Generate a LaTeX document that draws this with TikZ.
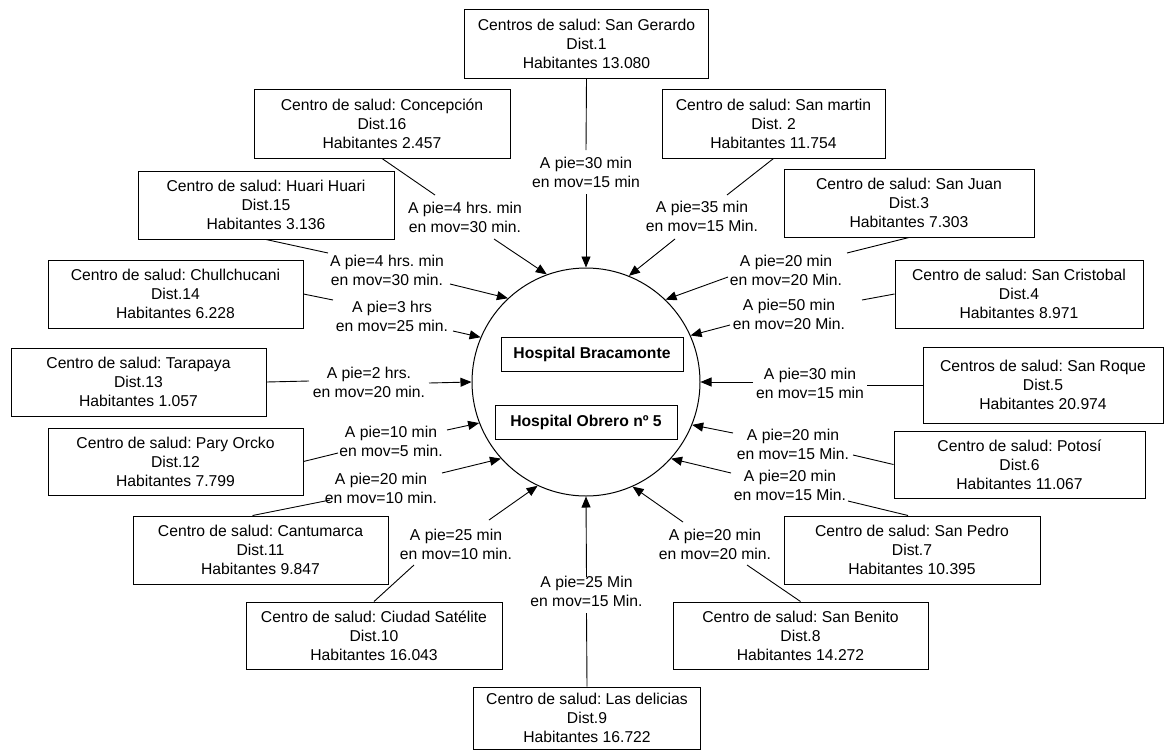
\documentclass[tikz,border=0pt]{standalone}
\usepackage{fontspec}
\setmainfont{Liberation Sans}
\usetikzlibrary{arrows.meta,calc}
\begin{document}
\frenchspacing
\begin{tikzpicture}[x=1pt,y=-1pt,
  txt/.style={font=\fontsize{15.7}{19}\selectfont\frenchspacing, align=center},
  centro/.style={txt, draw, line width=1pt, inner sep=0pt},
  tiempo/.style={txt, inner xsep=3pt, inner ysep=6pt},
  hosp/.style={draw, line width=1pt, font=\fontsize{15.7}{19}\selectfont\bfseries, inner sep=0pt, minimum width=182pt, minimum height=34pt},
  link/.style={line width=0.9pt},
  flecha/.style={line width=0.9pt, -{Triangle[length=11pt,width=9pt]}},
]
\useasboundingbox (0,0) rectangle (1173,753);

% central circle and hospitals
\node[circle, draw, line width=1pt, minimum size=228pt, inner sep=0pt] (c) at (586,382) {};
\node[hosp] (hb) at (592,354) {Hospital Bracamonte};
\node[hosp] (ho) at (586,422) {Hospital Obrero nº 5};

% health centres
\node[centro, minimum width=244pt, minimum height=69pt] (g1) at (586.5,43.5) {Centros de salud: San Gerardo\\Dist.1\\Habitantes 13.080};
\node[centro, minimum width=223pt, minimum height=69pt] (g2) at (773.5,123.5) {Centro de salud: San martin\\Dist. 2\\Habitantes 11.754};
\node[centro, minimum width=250pt, minimum height=68pt] (g3) at (909,203) {Centro de salud: San Juan\\Dist.3\\Habitantes 7.303};
\node[centro, minimum width=248pt, minimum height=68pt] (g4) at (1019,294) {Centro de salud: San Cristobal\\Dist.4\\Habitantes 8.971};
\node[centro, minimum width=240pt, minimum height=76pt] (g5) at (1043,385) {Centros de salud: San Roque\\Dist.5\\Habitantes 20.974};
\node[centro, minimum width=251pt, minimum height=67pt] (g6) at (1019.5,464.5) {Centro de salud: Potosí\\Dist.6\\Habitantes 11.067};
\node[centro, minimum width=256pt, minimum height=68pt] (g7) at (912,550) {Centro de salud: San Pedro\\Dist.7\\Habitantes 10.395};
\node[centro, minimum width=255pt, minimum height=67pt] (g8) at (800.5,635.5) {Centro de salud: San Benito\\Dist.8\\Habitantes 14.272};
\node[centro, minimum width=227pt, minimum height=62pt] (g9) at (587,718) {Centro de salud: Las delicias\\Dist.9\\Habitantes 16.722};
\node[centro, minimum width=256pt, minimum height=67pt] (g10) at (374,635.5) {Centro de salud: Ciudad Satélite\\Dist.10\\Habitantes 16.043};
\node[centro, minimum width=255pt, minimum height=68pt] (g11) at (260.5,550) {Centro de salud: Cantumarca\\Dist.11\\Habitantes 9.847};
\node[centro, minimum width=255pt, minimum height=67pt] (g12) at (175.5,461.5) {Centro de salud: Pary Orcko\\Dist.12\\Habitantes 7.799};
\node[centro, minimum width=255pt, minimum height=68pt] (g13) at (138.5,382) {Centro de salud: Tarapaya\\Dist.13\\Habitantes 1.057};
\node[centro, minimum width=255pt, minimum height=68pt] (g14) at (175.5,294) {Centro de salud: Chullchucani\\Dist.14\\Habitantes 6.228};
\node[centro, minimum width=256pt, minimum height=68pt] (g15) at (266,205) {Centro de salud: Huari Huari\\Dist.15\\Habitantes 3.136};
\node[centro, minimum width=256pt, minimum height=69pt] (g16) at (382,123.5) {Centro de salud: Concepción\\Dist.16\\Habitantes 2.457};

% travel-time labels
\node[tiempo] (l1) at (586,172) {A pie=30 min\\en mov=15 min};
\node[tiempo] (l2) at (702,216) {A pie=35 min\\en mov=15 Min.};
\node[tiempo] (l3) at (786,270) {A pie=20 min\\en mov=20 Min.};
\node[tiempo] (l4) at (789,314) {A pie=50 min\\en mov=20 Min.};
\node[tiempo] (l5) at (810,383) {A pie=30 min\\en mov=15 min};
\node[tiempo] (l6) at (793,444) {A pie=20 min\\en mov=15 Min.};
\node[tiempo] (l7) at (790,485) {A pie=20 min\\en mov=15 Min.};
\node[tiempo] (l8) at (715,544) {A pie=20 min\\en mov=20 min.};
\node[tiempo] (l9) at (586.5,591.5) {A pie=25 Min\\en mov=15 Min.};
\node[tiempo] (l10) at (456,544) {A pie=25 min\\en mov=10 min.};
\node[tiempo] (l11) at (381,488) {A pie=20 min\\en mov=10 min.};
\node[tiempo] (l12) at (391,441) {A pie=10 min\\en mov=5 min.};
\node[tiempo] (l13) at (369,382) {A pie=2 hrs.\\en mov=20 min.};
\node[tiempo] (l14) at (392,316) {A pie=3 hrs\\en mov=25 min.};
\node[tiempo] (l15) at (387,270) {A pie=4 hrs. min\\en mov=30 min.};
\node[tiempo] (l16) at (465,217) {A pie=4 hrs. min\\en mov=30 min.};

% connectors
\draw[link] (g1.south) -- ($(l1)+(0,-22)$);
\draw[flecha] ($(l1)+(0,22)$) -- (c.90);
\draw[link] (g2.south) -- ($(l2)+(25,-21)$);
\draw[flecha] ($(l2)+(-27,23)$) -- (c.68);
\draw[link] (g3.south) -- ($(l3)+(61,-17)$);
\draw[flecha] ($(l3)+(-58,7)$) -- (c.46);
\draw[link] (g4.west) -- ($(l4)+(73,-14)$);
\draw[flecha] ($(l4)+(-59,11)$) -- (c.24);
\draw[link] (g5.west) -- ($(l5)+(57,2)$);
\draw[flecha] ($(l5)+(-57,-1)$) -- (c.0);
\draw[link] (g6.west) -- ($(l6)+(60,11)$);
\draw[flecha] ($(l6)+(-60,-11)$) -- (c.-22);
\draw[link] ($(g7.north)+(-4,0)$) -- ($(l7)+(58,16)$);
\draw[flecha] ($(l7)+(-59,-12)$) -- (c.-42);
\draw[link] (g8.north) -- ($(l8)+(32,21)$);
\draw[flecha] ($(l8)+(-32,-22)$) -- (c.-66);
\draw[link] (g9.north) -- ($(l9)+(0,21.5)$);
\draw[flecha] ($(l9)+(0,-14.5)$) -- (c.-90);
\draw[link] (g10.north) -- ($(l10)+(-42,21)$);
\draw[flecha] ($(l10)+(33,-24)$) -- (c.245);
\draw[link] ($(g11.north)+(-8,0)$) -- ($(l11)+(-51,12)$);
\draw[flecha] ($(l11)+(61,-15)$) -- (c.222);
\draw[link] (g12.east) -- ($(l12)+(-53,12)$);
\draw[flecha] ($(l12)+(56,-11)$) -- (c.201);
\draw[link] (g13.east) -- ($(l13)+(-60,-1)$);
\draw[flecha] ($(l13)+(60,1)$) -- (c.180);
\draw[link] (g14.east) -- ($(l14)+(-59,-16)$);
\draw[flecha] ($(l14)+(61,15)$) -- (c.157);
\draw[link] (g15.south) -- ($(l15)+(-59,-17)$);
\draw[flecha] ($(l15)+(63,14)$) -- (c.133);
\draw[link] (g16.south) -- ($(l16)+(-30,-22)$);
\draw[flecha] ($(l16)+(29,22)$) -- (c.110);
\end{tikzpicture}
\end{document}
